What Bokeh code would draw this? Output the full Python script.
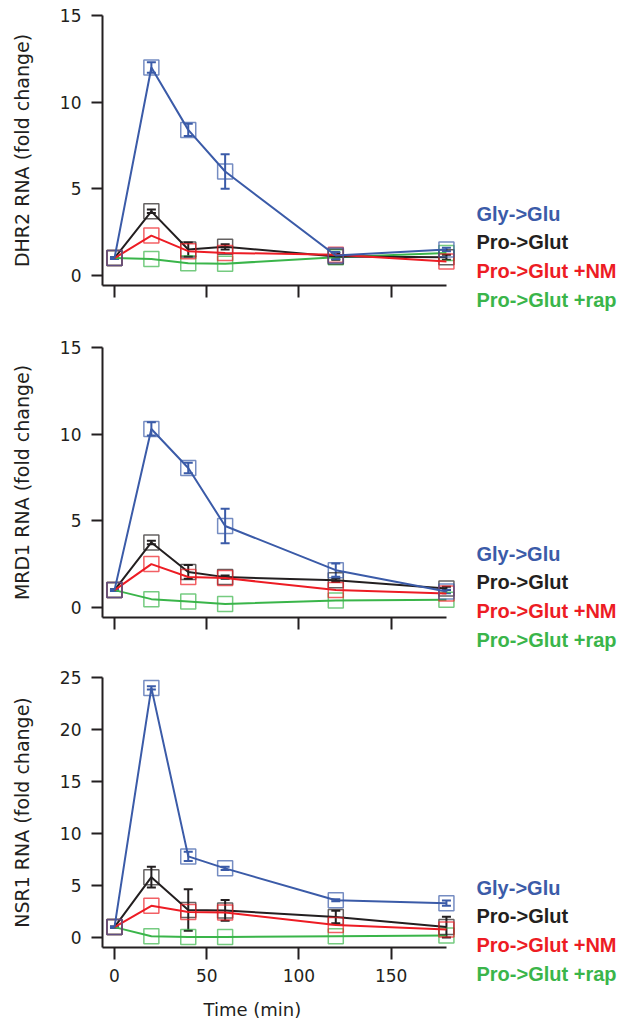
from bokeh.plotting import figure
from bokeh.models import Range1d, ColumnDataSource, Whisker, TeeHead, Label, Title, FixedTicker
from bokeh.layouts import column, row
from bokeh.embed import file_html
from bokeh.resources import INLINE

time = [0, 20, 40, 60, 120, 180]
series_names = ["Gly->Glu", "Pro->Glut", "Pro->Glut +NM", "Pro->Glut +rap"]
colors = ["#3b5ba8", "#231f20", "#ed1c24", "#3ab54a"]

# DHR2
dhr2_gly = [1.0, 12.0, 8.4, 6.0, 1.15, 1.5]
dhr2_gly_err = [0.05, 0.3, 0.35, 1.0, 0.2, 0.1]
dhr2_pro = [1.0, 3.7, 1.5, 1.65, 1.1, 1.05]
dhr2_pro_err = [0.05, 0.1, 0.4, 0.15, 0.2, 0.15]
dhr2_nm = [1.0, 2.3, 1.4, 1.3, 1.2, 0.8]
dhr2_nm_err = [0.0, 0.0, 0.0, 0.0, 0.0, 0.0]
dhr2_rap = [1.0, 0.95, 0.7, 0.68, 1.05, 1.3]
dhr2_rap_err = [0.0, 0.0, 0.0, 0.0, 0.0, 0.0]

# MRD1
mrd1_gly = [1.0, 10.3, 8.05, 4.7, 2.15, 0.92]
mrd1_gly_err = [0.05, 0.38, 0.3, 1.0, 0.38, 0.1]
mrd1_pro = [1.0, 3.75, 2.05, 1.75, 1.57, 1.1]
mrd1_pro_err = [0.05, 0.1, 0.4, 0.1, 0.1, 0.1]
mrd1_nm = [1.0, 2.5, 1.76, 1.7, 1.0, 0.8]
mrd1_nm_err = [0.0, 0.0, 0.0, 0.0, 0.0, 0.0]
mrd1_rap = [1.0, 0.48, 0.35, 0.2, 0.4, 0.45]
mrd1_rap_err = [0.0, 0.0, 0.0, 0.0, 0.0, 0.0]

# NSR1
nsr1_gly = [1.0, 24.0, 7.8, 6.65, 3.58, 3.3]
nsr1_gly_err = [0.05, 0.15, 0.45, 0.15, 0.1, 0.25]
nsr1_pro = [1.0, 5.8, 2.65, 2.6, 1.98, 1.0]
nsr1_pro_err = [0.05, 1.0, 2.0, 1.0, 0.6, 1.0]
nsr1_nm = [1.0, 3.05, 2.46, 2.4, 1.2, 0.78]
nsr1_nm_err = [0.0, 0.0, 0.0, 0.0, 0.0, 0.0]
nsr1_rap = [1.0, 0.12, 0.05, 0.05, 0.12, 0.2]
nsr1_rap_err = [0.0, 0.0, 0.0, 0.0, 0.0, 0.0]

x_ticks = [0, 50, 100, 150]

TXT = "#231f20"
TICK_FONT = "DejaVu Sans"
LEG_FONT = "Liberation Sans"


def make_panel(ylabel, data, errs, ymin, ymax, yticks, top, bottom, show_x_labels):
    p = figure(frame_width=355, frame_height=270,
               min_border_left=102, min_border_right=0,
               min_border_top=top, min_border_bottom=bottom,
               x_range=Range1d(-6.5, 186), y_range=Range1d(ymin, ymax),
               output_backend="svg", toolbar_location=None)
    p.outline_line_color = None
    p.grid.visible = False
    p.background_fill_color = "white"
    p.border_fill_color = "white"

    for ax in (p.xaxis[0], p.yaxis[0]):
        ax.axis_line_width = 2
        ax.axis_line_color = TXT
        ax.major_tick_line_width = 2
        ax.major_tick_line_color = TXT
        ax.major_tick_in = 0
        ax.minor_tick_line_color = None
        ax.major_label_text_font = TICK_FONT
        ax.major_label_text_font_size = "17px"
        ax.major_label_text_color = TXT
    p.xaxis[0].ticker = FixedTicker(ticks=x_ticks)
    p.xaxis[0].bounds = (-6.5, 180)
    p.xaxis[0].major_tick_out = 12
    p.xaxis[0].major_label_standoff = 9
    if not show_x_labels:
        p.xaxis[0].major_label_overrides = {t: "" for t in x_ticks}
        p.xaxis[0].major_label_standoff = 0
    p.yaxis[0].ticker = FixedTicker(ticks=yticks)
    p.yaxis[0].major_tick_out = 11
    p.yaxis[0].major_label_standoff = 10
    p.yaxis[0].axis_label = ylabel
    p.yaxis[0].axis_label_text_font = TICK_FONT
    p.yaxis[0].axis_label_text_font_size = "19px"
    p.yaxis[0].axis_label_text_font_style = "normal"
    p.yaxis[0].axis_label_text_color = TXT
    p.yaxis[0].axis_label_standoff = 24

    order = [3, 1, 2, 0]
    for i in order:
        ys = data[i]
        es = errs[i]
        c = colors[i]
        src = ColumnDataSource(dict(x=time, y=ys))
        p.line("x", "y", source=src, line_color=c, line_width=2)
        p.scatter("x", "y", source=src, marker="square", size=15,
                  fill_color=None, line_color=c, line_width=1.5, line_alpha=0.7)
        xs = [t for t, e in zip(time, es) if e > 0]
        up = [y + e for y, e in zip(ys, es) if e > 0]
        lo = [y - e for y, e in zip(ys, es) if e > 0]
        if xs:
            esrc = ColumnDataSource(dict(x=xs, upper=up, lower=lo))
            w = Whisker(source=esrc, base="x", upper="upper", lower="lower",
                        dimension="height", line_color=c, line_width=2,
                        upper_head=TeeHead(size=9, line_color=c, line_width=2),
                        lower_head=TeeHead(size=9, line_color=c, line_width=2))
            p.add_layout(w)
    return p


p1 = make_panel("DHR2 RNA (fold change)",
                [dhr2_gly, dhr2_pro, dhr2_nm, dhr2_rap],
                [dhr2_gly_err, dhr2_pro_err, dhr2_nm_err, dhr2_rap_err],
                -0.58, 15, [0, 5, 10, 15], 15, 35, False)
p2 = make_panel("MRD1 RNA (fold change)",
                [mrd1_gly, mrd1_pro, mrd1_nm, mrd1_rap],
                [mrd1_gly_err, mrd1_pro_err, mrd1_nm_err, mrd1_rap_err],
                -0.58, 15, [0, 5, 10, 15], 27, 41, False)
p3 = make_panel("NSR1 RNA (fold change)",
                [nsr1_gly, nsr1_pro, nsr1_nm, nsr1_rap],
                [nsr1_gly_err, nsr1_pro_err, nsr1_nm_err, nsr1_rap_err],
                -0.96, 25, [0, 5, 10, 15, 20, 25], 19, 78, True)
p3.add_layout(Title(text="Time (min)", align="left", offset=101, standoff=24,
                    text_font=TICK_FONT, text_font_size="18px",
                    text_font_style="normal", text_color=TXT), "below")

TOTAL_H = 1025
leg = figure(width=162, height=TOTAL_H, min_border=0, x_range=Range1d(0, 1), y_range=Range1d(0, 1),
             x_axis_location=None, y_axis_location=None,
             output_backend="svg", toolbar_location=None)
leg.outline_line_color = None
leg.grid.visible = False
# legend block top positions (page px) for each panel
legend_tops = [213, 553, 887]
for top_y in legend_tops:
    for k, name in enumerate(series_names):
        leg.add_layout(Label(x=19, y=TOTAL_H - (top_y + 28.8 * k), x_units="screen", y_units="screen",
                             text=name, text_font=LEG_FONT, text_font_size="20px",
                             text_font_style="bold", text_color=colors[k],
                             text_align="left", text_baseline="middle"))

layout = row(column(p1, p2, p3, spacing=0), leg, spacing=0)
open("out.html", "w").write(file_html(layout, INLINE))
